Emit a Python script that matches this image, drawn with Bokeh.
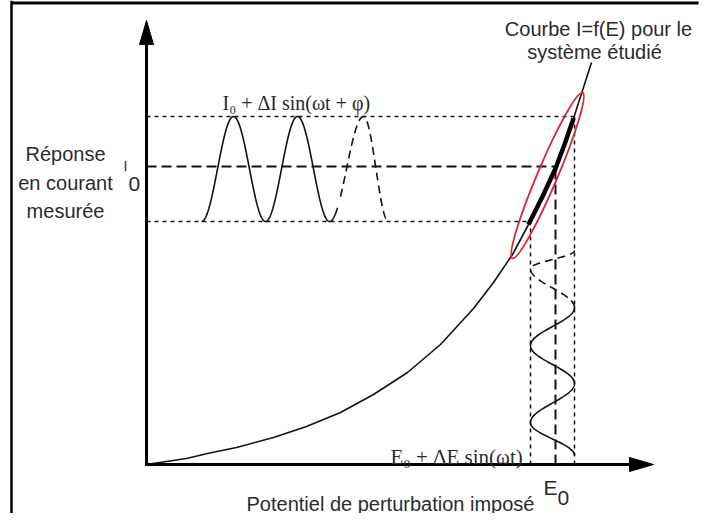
import numpy as np
from bokeh.plotting import figure
from bokeh.models import Range1d
from bokeh.core.properties import value
from bokeh.embed import file_html
from bokeh.resources import INLINE

# ---------------- data (diagram units, origin at the axes' corner) ----------------
# characteristic curve I = f(E)
curve_E = [0, 20, 40, 61, 90, 127, 160, 194, 227, 261, 294, 327, 347, 366, 382, 396, 409, 418, 427, 436, 445]
curve_I = [0, 3, 6, 11, 17, 27, 38, 52, 70, 92, 120, 156, 182, 210, 240, 268, 296, 320, 346, 374, 402]

# working point and perturbation levels
level_E = [384, 409, 428]   # E0-dE, E0, E0+dE
level_I = [243, 298, 348]   # I0-dI, I0, I0+dI

# measured current wave: positions of its successive troughs / peaks (along E)
resp_knots_E = [55, 87, 119, 151, 183, 217, 242]
resp_solid_end = 191
# imposed potential wave: positions of successive right / left extremes (along I)
pert_knots_I = [9, 42, 81, 119, 157, 196, 214]
pert_solid_end = 164

# highlighted zone (ellipse around the linear part)
zone_center = [401, 289]
zone_size = [180, 20]
zone_angle = 67

axis_E_end = 507
axis_I_end = 444

labels_sans = ["Courbe I=f(E) pour le", "système étudié", "Réponse", "en courant", "mesurée",
               "Potentiel de perturbation imposé"]
labels_sans_E = [452, 448, -81, -81, -81, 244]
labels_sans_I = [436, 413, 311, 282, 254, -39]

# ---------------- styles ----------------
SANS = "Liberation Sans"
SERIF = "Liberation Serif"
INK = "#111111"
TXT = "#2b2b2b"
RED = "#d7262e"

OX, OY = 146, 464   # axes corner position in the picture
W, H = 700, 513
p = figure(width=W, height=H,
           x_range=Range1d(0 - OX, W - OX), y_range=Range1d(OY - H, OY - 0),
           output_backend="svg", toolbar_location=None, min_border=0,
           x_axis_type=None, y_axis_type=None, outline_line_color=None,
           background_fill_color="white", border_fill_color="white")
p.grid.visible = False

# frame remnants (left and top edge of the original picture)
p.line([-135, -135], [OY - H, OY], line_color="black", line_width=2.5)
p.line([-135, 552], [461.5, 461.5], line_color="black", line_width=3)

# guide lines: horizontal from I axis, vertical from E axis
for k, (dash, lw) in enumerate([("4 4", 1.5), ("10 5", 2.0), ("4 4", 1.5)]):
    p.line([0, level_E[k]], [level_I[k], level_I[k]], line_color=INK, line_width=lw, line_dash=dash)
    p.line([level_E[k], level_E[k]], [0, level_I[k]], line_color=INK, line_width=lw, line_dash=dash)

# characteristic curve
p.line(curve_E, curve_I, line_color=INK, line_width=1.6)
# linear part used by the perturbation
cE = np.array(curve_E); cI = np.array(curve_I)
sel = (cE >= 382) & (cE <= 427)
p.line(cE[sel], cI[sel], line_color="black", line_width=4.5)

# ellipse
p.ellipse(x=[zone_center[0]], y=[zone_center[1]], width=zone_size[0], height=zone_size[1],
          angle=zone_angle, angle_units="deg", fill_color=None, line_color=RED, line_width=1.8)

# measured current response wave
rk = np.array(resp_knots_E, float)
rph = np.pi * np.arange(len(rk))
Ic = (level_I[0] + level_I[2]) / 2.0
Ia = (level_I[2] - level_I[0]) / 2.0
e1 = np.linspace(rk[0], resp_solid_end, 300)
p.line(e1, Ic - Ia * np.cos(np.interp(e1, rk, rph)), line_color=INK, line_width=1.6)
e2 = np.linspace(resp_solid_end + 3, rk[-1], 200)
p.line(e2, Ic - Ia * np.cos(np.interp(e2, rk, rph)), line_color=INK, line_width=1.6, line_dash="8 5")

# imposed potential wave
pk = np.array(pert_knots_I, float)
pph = np.pi * np.arange(len(pk))
Ec = (level_E[0] + level_E[2]) / 2.0
Ea = (level_E[2] - level_E[0]) / 2.0
i1 = np.linspace(pk[0], pert_solid_end, 300)
p.line(Ec + Ea * np.cos(np.interp(i1, pk, pph)), i1, line_color=INK, line_width=1.6)
i2 = np.linspace(pert_solid_end + 3, pk[-1], 200)
p.line(Ec + Ea * np.cos(np.interp(i2, pk, pph)), i2, line_color=INK, line_width=1.6, line_dash="8 5")

# axes with arrow heads
HL, HW = 24, 7
p.line([0, 0, axis_E_end - HL], [axis_I_end - HL, 0, 0], line_color="black", line_width=3,
       line_join="miter")
p.patches(xs=[[0, -HW, HW], [axis_E_end, axis_E_end - HL, axis_E_end - HL]],
          ys=[[axis_I_end, axis_I_end - HL, axis_I_end - HL], [0, HW, -HW]],
          fill_color="black", line_color="black")

# texts
p.text(x=labels_sans_E, y=labels_sans_I, text=labels_sans, text_font=value(SANS),
       text_font_size="20px", text_color=TXT, text_align="center", text_baseline="alphabetic")
# I0 and E0 tick labels
p.text(x=[-23], y=[299], text=["I"], text_font=value(SANS), text_font_size="14px",
       text_color=TXT, text_baseline="alphabetic")
p.text(x=[-18], y=[281], text=["0"], text_font=value(SANS), text_font_size="21px",
       text_color=TXT, text_baseline="alphabetic")
p.text(x=[397], y=[-23], text=["E"], text_font=value(SANS), text_font_size="21px",
       text_color=TXT, text_baseline="alphabetic")
p.text(x=[411], y=[-33], text=["0"], text_font=value(SANS), text_font_size="21px",
       text_color=TXT, text_baseline="alphabetic")
# formulas
p.text(x=[76], y=[362], text=["I₀ + ΔI sin(ωt + φ)"], text_font=value(SERIF),
       text_font_size="20px", text_color=TXT, text_baseline="alphabetic")
p.text(x=[244], y=[8], text=["E₀ + ΔE sin(ωt)"], text_font=value(SERIF),
       text_font_size="21px", text_color=TXT, text_baseline="alphabetic")

open("out.html", "w").write(file_html(p, INLINE))
